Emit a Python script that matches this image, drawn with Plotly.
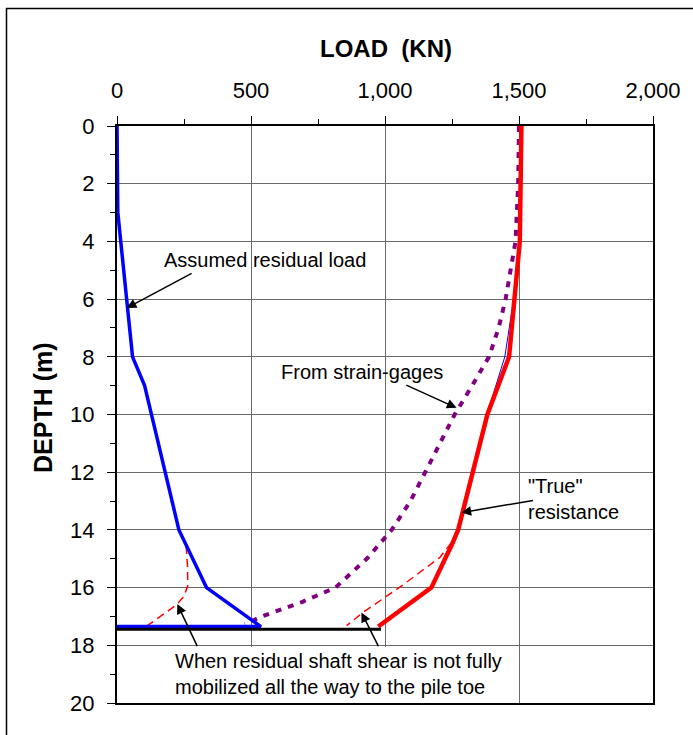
import plotly.graph_objects as go

# ---------------- data ----------------
# Assumed residual load (thick blue)
resid_depth = [0, 3, 8, 9, 14, 16, 17.35, 17.35]
resid_load = [0, 3, 58, 103, 231, 334, 537, 0]

# "True" resistance (thick red)
true_depth = [0, 4, 8, 10, 14, 14.5, 16, 17.35]
true_load = [1509, 1503, 1463, 1382, 1273, 1250, 1173, 975]

# thin blue line underneath the true resistance
thin_depth = [0, 4, 6, 8, 9.5, 10, 14, 14.5, 16, 17.35]
thin_load = [1509, 1502, 1480, 1447, 1397, 1382, 1273, 1250, 1173, 975]

# From strain-gages (purple dotted)
gage_depth = [0, 2, 4, 5, 6, 7, 8, 9, 10, 11, 12, 13, 14, 15, 16, 16.5, 17, 17.27]
gage_load = [1500, 1497, 1487, 1470, 1450, 1424, 1388, 1325, 1260, 1205, 1150,
             1095, 1025, 932, 815, 690, 540, 477]

# residual shear not fully mobilized (red dashed, left and right)
dashL_depth = [14.56, 15.25, 15.94, 16.3, 16.6, 17.44]
dashL_load = [258, 263, 264, 250, 222, 95]
dashR_depth = [14.44, 14.96, 15.94, 16.86, 17.32]
dashR_load = [1248, 1204, 1062, 918, 857]

# pile toe line (black)
toe_depth = [17.44, 17.44]
toe_load = [0, 985]

x_ticks = [0, 500, 1000, 1500, 2000]
y_ticks = [0, 2, 4, 6, 8, 10, 12, 14, 16, 18, 20]

FONT = "Liberation Sans, Arial, sans-serif"

fig = go.Figure()
fig.add_trace(go.Scatter(x=gage_load, y=gage_depth, mode="lines",
                         line=dict(color="#800080", width=4, dash="6px,7px")))
fig.add_trace(go.Scatter(x=dashL_load, y=dashL_depth, mode="lines",
                         line=dict(color="#FF0000", width=1.5, dash="8px,5px")))
fig.add_trace(go.Scatter(x=dashR_load, y=dashR_depth, mode="lines",
                         line=dict(color="#FF0000", width=1.5, dash="8px,5px")))
fig.add_trace(go.Scatter(x=thin_load, y=thin_depth, mode="lines",
                         line=dict(color="#0000FF", width=1)))
fig.add_trace(go.Scatter(x=true_load, y=true_depth, mode="lines",
                         line=dict(color="#FF0000", width=4.5)))
fig.add_trace(go.Scatter(x=resid_load, y=resid_depth, mode="lines",
                         line=dict(color="#0000FF", width=3.5)))
fig.add_trace(go.Scatter(x=toe_load, y=toe_depth, mode="lines",
                         line=dict(color="#000000", width=3)))

W, H = 693, 735
ML, MR, MT, MB = 117, 40, 126, 32
PW, PH = W - ML - MR, H - MT - MB


def px_x(p):
    return (p - ML) / PW


def px_y(p):
    return (H - MB - p) / PH


annotations = []
# titles
annotations.append(dict(text="<b>LOAD\u00a0 (KN)</b>", xref="paper", yref="paper",
                        x=px_x(386), y=px_y(48.7), xanchor="center", yanchor="middle",
                        showarrow=False, font=dict(size=24, color="black", family=FONT)))
annotations.append(dict(text="<b>DEPTH (m)</b>", xref="paper", yref="paper",
                        x=px_x(43), y=px_y(408), xanchor="center", yanchor="middle",
                        textangle=-90, showarrow=False,
                        font=dict(size=25, color="black", family=FONT)))

txt_font = dict(size=20, color="black", family=FONT)
annotations.append(dict(text="Assumed residual load", x=168, y=4.655, xref="x", yref="y",
                        xanchor="left", yanchor="middle", showarrow=False, font=txt_font))
annotations.append(dict(text="From strain-gages", x=604, y=8.54, xref="x", yref="y",
                        xanchor="left", yanchor="middle", showarrow=False, font=txt_font))
annotations.append(dict(text="\"True\"<br>resistance", x=1526, y=12.93, xref="x", yref="y",
                        xanchor="left", yanchor="middle", align="left", showarrow=False,
                        font=txt_font))
annotations.append(dict(text="When residual shaft shear is not fully<br>mobilized all the way to the pile toe",
                        x=825, y=18.98, xref="x", yref="y", xanchor="center", yanchor="middle",
                        align="left", showarrow=False, font=txt_font))

arrows = [
    ((284, 5.08), (36, 6.31)),
    ((1074, 8.96), (1267, 9.77)),
    ((1558, 12.97), (1285, 13.4)),
    ((302, 18.08), (225, 16.57)),
    ((978, 18.08), (912, 16.86)),
]
for (tx, ty), (hx, hy) in arrows:
    annotations.append(dict(text="", x=hx, y=hy, ax=tx, ay=ty, xref="x", yref="y",
                            axref="x", ayref="y", showarrow=True, arrowhead=2,
                            arrowsize=1.3, arrowwidth=1.5, arrowcolor="black",
                            standoff=0, startstandoff=0))

shapes = [
    # white box behind the bottom note (covers grid / axis line)
    dict(type="rect", xref="x", yref="y", x0=246, x1=1428, y0=18.06, y1=20.1,
         fillcolor="white", line=dict(width=0), layer="above"),
    # outer chart frame
    dict(type="rect", xref="paper", yref="paper", x0=px_x(6.5), x1=px_x(720),
         y0=px_y(760), y1=px_y(8.5), line=dict(color="black", width=1.5),
         fillcolor="rgba(0,0,0,0)", layer="below"),
]

fig.update_layout(
    width=W, height=H,
    margin=dict(l=ML, r=MR, t=MT, b=MB),
    paper_bgcolor="white", plot_bgcolor="white",
    showlegend=False,
    font=dict(family=FONT, color="black"),
    annotations=annotations,
    shapes=shapes,
)
fig.update_xaxes(
    side="top", range=[0, 2000], tickvals=x_ticks, tickformat=",",
    showgrid=True, gridcolor="#6a6a6a", gridwidth=1,
    showline=True, linecolor="black", linewidth=2, mirror=True,
    ticks="outside", ticklen=8, tickcolor="black", tickwidth=1,
    tickfont=dict(size=22, family=FONT, color="black"), ticklabelstandoff=9,
    minor=dict(dtick=250, tick0=0, ticks="outside", ticklen=5, tickcolor="black", showgrid=False),
    zeroline=False, fixedrange=True,
)
fig.update_yaxes(
    range=[20, 0], tickvals=y_ticks,
    showgrid=True, gridcolor="#6a6a6a", gridwidth=1,
    showline=True, linecolor="black", linewidth=2, mirror=True,
    ticks="outside", ticklen=8, tickcolor="black", tickwidth=1,
    tickfont=dict(size=22, family=FONT, color="black"), ticklabelstandoff=8,
    minor=dict(dtick=1, tick0=0, ticks="outside", ticklen=5, tickcolor="black", showgrid=False),
    zeroline=False, fixedrange=True,
)

fig.write_html("out.html")
